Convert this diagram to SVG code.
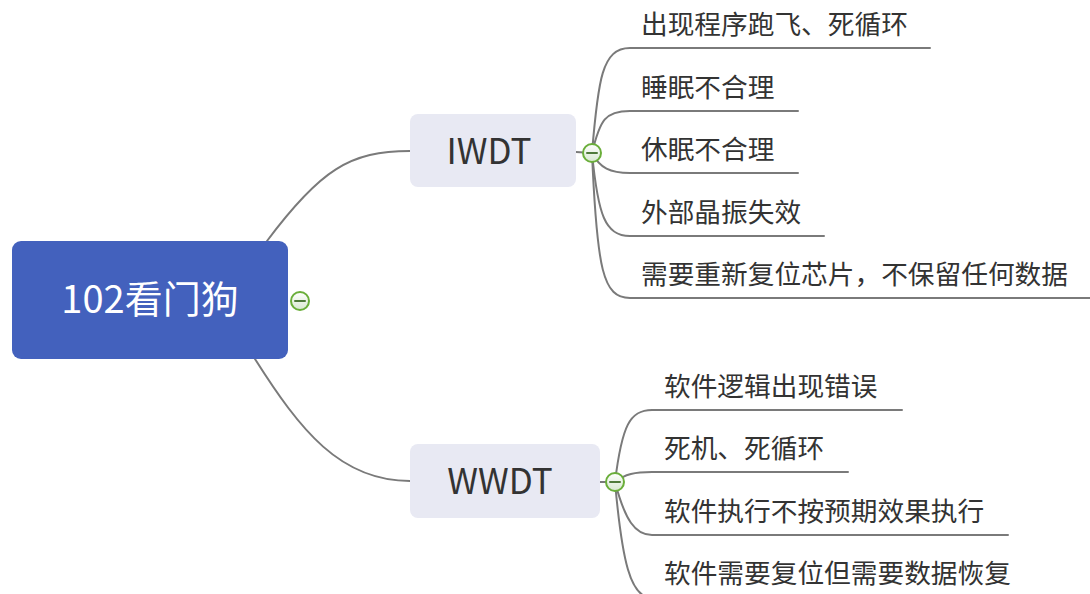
<svg xmlns="http://www.w3.org/2000/svg" width="1090" height="594" viewBox="0 0 1090 594">
<defs>
<linearGradient id="cg" x1="0" y1="0" x2="0" y2="1">
<stop offset="0" stop-color="#ffffff"/>
<stop offset="1" stop-color="#d8e8d0"/>
</linearGradient>
<style>
.ln{fill:none;stroke:#7a7a7a;stroke-width:2;stroke-linecap:round}
.t{font-family:"Microsoft YaHei","Noto Sans CJK SC","Noto Sans",sans-serif;fill:#333333}
.lf{font-size:26.7px}
.mid{font-size:35px;text-anchor:middle}
.col{fill:url(#cg);stroke:#6aae3a;stroke-width:2}
.minus{stroke:#4f7a3a;stroke-width:2;stroke-linecap:round}
</style>
</defs>
<rect width="1090" height="594" fill="#ffffff"/>
<g id="connectors">
<path class="ln" d="M267,241 C320,170 350,151 410,151"/>
<path class="ln" d="M255,359 C300,430 340,481 410,481"/>
<path class="ln" d="M576,152 L592,153"/>
<path class="ln" d="M600,482 L615,482"/>
<path class="ln" d="M592,153 C598,80 602,48 630,48 L930,48"/>
<path class="ln" d="M592,153 C600,120 605,111 630,111 L798,111"/>
<path class="ln" d="M592,153 C600,168 610,173 630,173 L798,173"/>
<path class="ln" d="M592,153 C598,215 605,236 630,236 L824,236"/>
<path class="ln" d="M592,153 C597,270 603,298 630,298 L1095,298"/>
<path class="ln" d="M615,482 C622,425 630,410 652,410 L902,410"/>
<path class="ln" d="M615,482 C625,474 635,472 652,472 L848,472"/>
<path class="ln" d="M615,482 C625,520 635,535 652,535 L1008,535"/>
<path class="ln" d="M615,482 C622,560 630,598 652,598 L1020,598"/>
</g>
<g id="root">
<rect x="12" y="241" width="276" height="118" rx="9" fill="#4361bd"/>
<text x="150" y="313" font-family="Microsoft YaHei,Noto Sans CJK SC,Noto Sans,sans-serif" font-size="38" fill="#ffffff" text-anchor="middle">102看门狗</text>
<circle class="col" cx="300" cy="301" r="9"/>
<line class="minus" x1="295" y1="301" x2="305" y2="301"/>
</g>
<g id="iwdt">
<rect x="410" y="114" width="166" height="73" rx="8" fill="#e8e9f3"/>
<text class="t mid" x="489" y="164">IWDT</text>
<circle class="col" cx="592" cy="153" r="9"/>
<line class="minus" x1="587" y1="153" x2="597" y2="153"/>
</g>
<g id="wwdt">
<rect x="410" y="444" width="190" height="74" rx="8" fill="#e8e9f3"/>
<text class="t mid" x="500" y="494">WWDT</text>
<circle class="col" cx="615" cy="482" r="9"/>
<line class="minus" x1="610" y1="482" x2="620" y2="482"/>
</g>
<g id="i1"><text class="t lf" x="641" y="34">出现程序跑飞、死循环</text></g>
<g id="i2"><text class="t lf" x="641" y="97">睡眠不合理</text></g>
<g id="i3"><text class="t lf" x="641" y="159">休眠不合理</text></g>
<g id="i4"><text class="t lf" x="641" y="222">外部晶振失效</text></g>
<g id="i5"><text class="t lf" x="641" y="284">需要重新复位芯片，不保留任何数据</text></g>
<g id="w1"><text class="t lf" x="664" y="396">软件逻辑出现错误</text></g>
<g id="w2"><text class="t lf" x="664" y="458">死机、死循环</text></g>
<g id="w3"><text class="t lf" x="664" y="521">软件执行不按预期效果执行</text></g>
<g id="w4"><text class="t lf" x="664" y="583">软件需要复位但需要数据恢复</text></g>
</svg>
